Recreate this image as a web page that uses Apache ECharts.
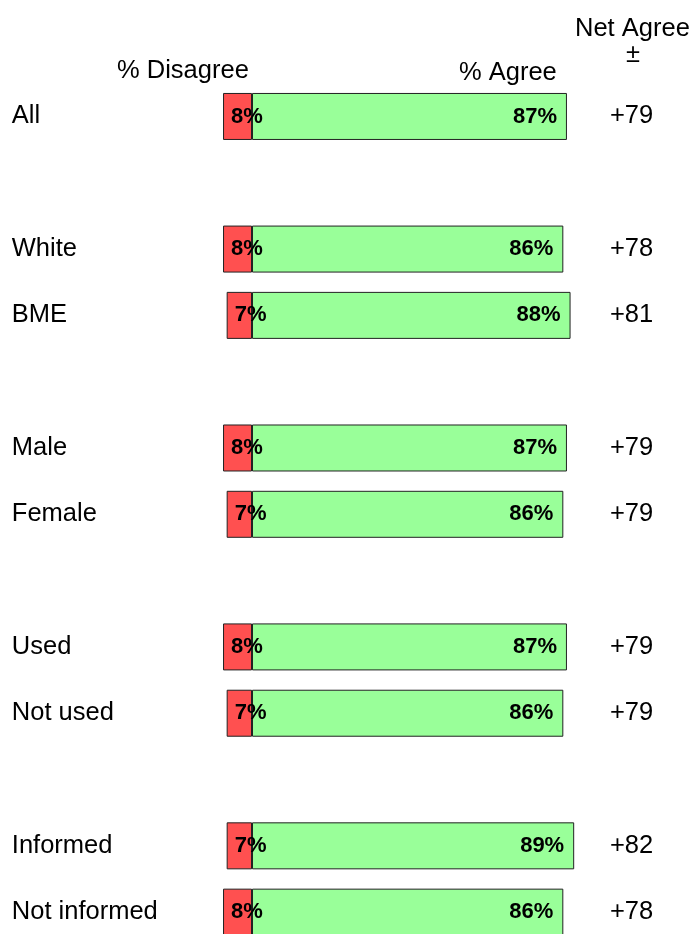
<!DOCTYPE html>
<html>
<head>
<meta charset="utf-8">
<script src="https://cdn.jsdelivr.net/npm/echarts@6/dist/echarts.min.js"></script>
<style>
  html, body { margin: 0; padding: 0; background: #fff; }
  #main { width: 694px; height: 934px; }
</style>
</head>
<body>
<div id="main"></div>
<script>
// 数据 (blank slots make the gaps between groups)
const categories = ["All", "", "White", "BME", "", "Male", "Female", "", "Used", "Not used", "", "Informed", "Not informed"];
const disagree = [8, null, 8, 7, null, 8, 7, null, 8, 7, null, 7, 8];
const agree = [87, null, 86, 88, null, 87, 86, null, 87, 86, null, 89, 86];
const netAgree = ["+79", "", "+78", "+81", "", "+79", "+79", "", "+79", "+79", "", "+82", "+78"];

const font = "Liberation Sans, Arial, sans-serif";
const textSize = 25.5;

let myChart = echarts.init(document.getElementById("main"));

myChart.setOption({
  animation: false,
  grid: {
    left: 215.8,
    right: 98.1,
    top: 83.3,
    height: 862,
    outerBoundsMode: "none",
  },
  xAxis: {
    type: "value",
    min: -10,
    max: 95,
    show: false,
  },
  yAxis: [
    {
      type: "category",
      data: categories,
      inverse: true,
      axisLine: { show: false },
      axisTick: { show: false },
      axisLabel: {
        align: "left",
        margin: 204,
        color: "#000",
        fontSize: textSize,
        fontFamily: font,
        padding: [0, 0, 3, 0],
      },
    },
    {
      type: "category",
      data: netAgree,
      inverse: true,
      position: "right",
      axisLine: { show: false },
      axisTick: { show: false },
      axisLabel: {
        align: "left",
        margin: 14,
        color: "#000",
        fontSize: textSize,
        fontFamily: font,
      },
    },
  ],
  graphic: [
    { type: "text", left: 117, top: 58, style: { text: "% Disagree", fontSize: textSize, fontFamily: font, fill: "#000" } },
    { type: "text", left: 459, top: 60, style: { text: "% Agree", fontSize: textSize, fontFamily: font, fill: "#000" } },
    { type: "text", left: 575, top: 16, style: { text: "Net Agree", fontSize: textSize, fontFamily: font, fill: "#000" } },
    { type: "text", left: 626, top: 42, style: { text: "±", fontSize: textSize, fontFamily: font, fill: "#000" } },
  ],
  series: [
    {
      name: "% Agree",
      type: "bar",
      data: agree,
      barWidth: 47,
      barGap: "-100%",
      itemStyle: { color: "#99ff99", borderColor: "#222", borderWidth: 1 },
      label: {
        show: true,
        position: "insideRight",
        distance: 10,
        formatter: (p) => p.value + "%",
        color: "#000",
        fontWeight: "bold",
        fontSize: 22,
        fontFamily: font,
      },
    },
    {
      name: "% Disagree",
      type: "bar",
      z: 3,
      data: disagree.map((v) => (v == null ? null : -v)),
      barWidth: 47,
      barGap: "-100%",
      itemStyle: { color: "#ff5050", borderColor: "#222", borderWidth: 1 },
      label: {
        show: true,
        position: "insideLeft",
        distance: 8,
        formatter: (p) => Math.abs(p.value) + "%",
        color: "#000",
        fontWeight: "bold",
        fontSize: 22,
        fontFamily: font,
      },
    },
  ],
});
</script>
</body>
</html>
